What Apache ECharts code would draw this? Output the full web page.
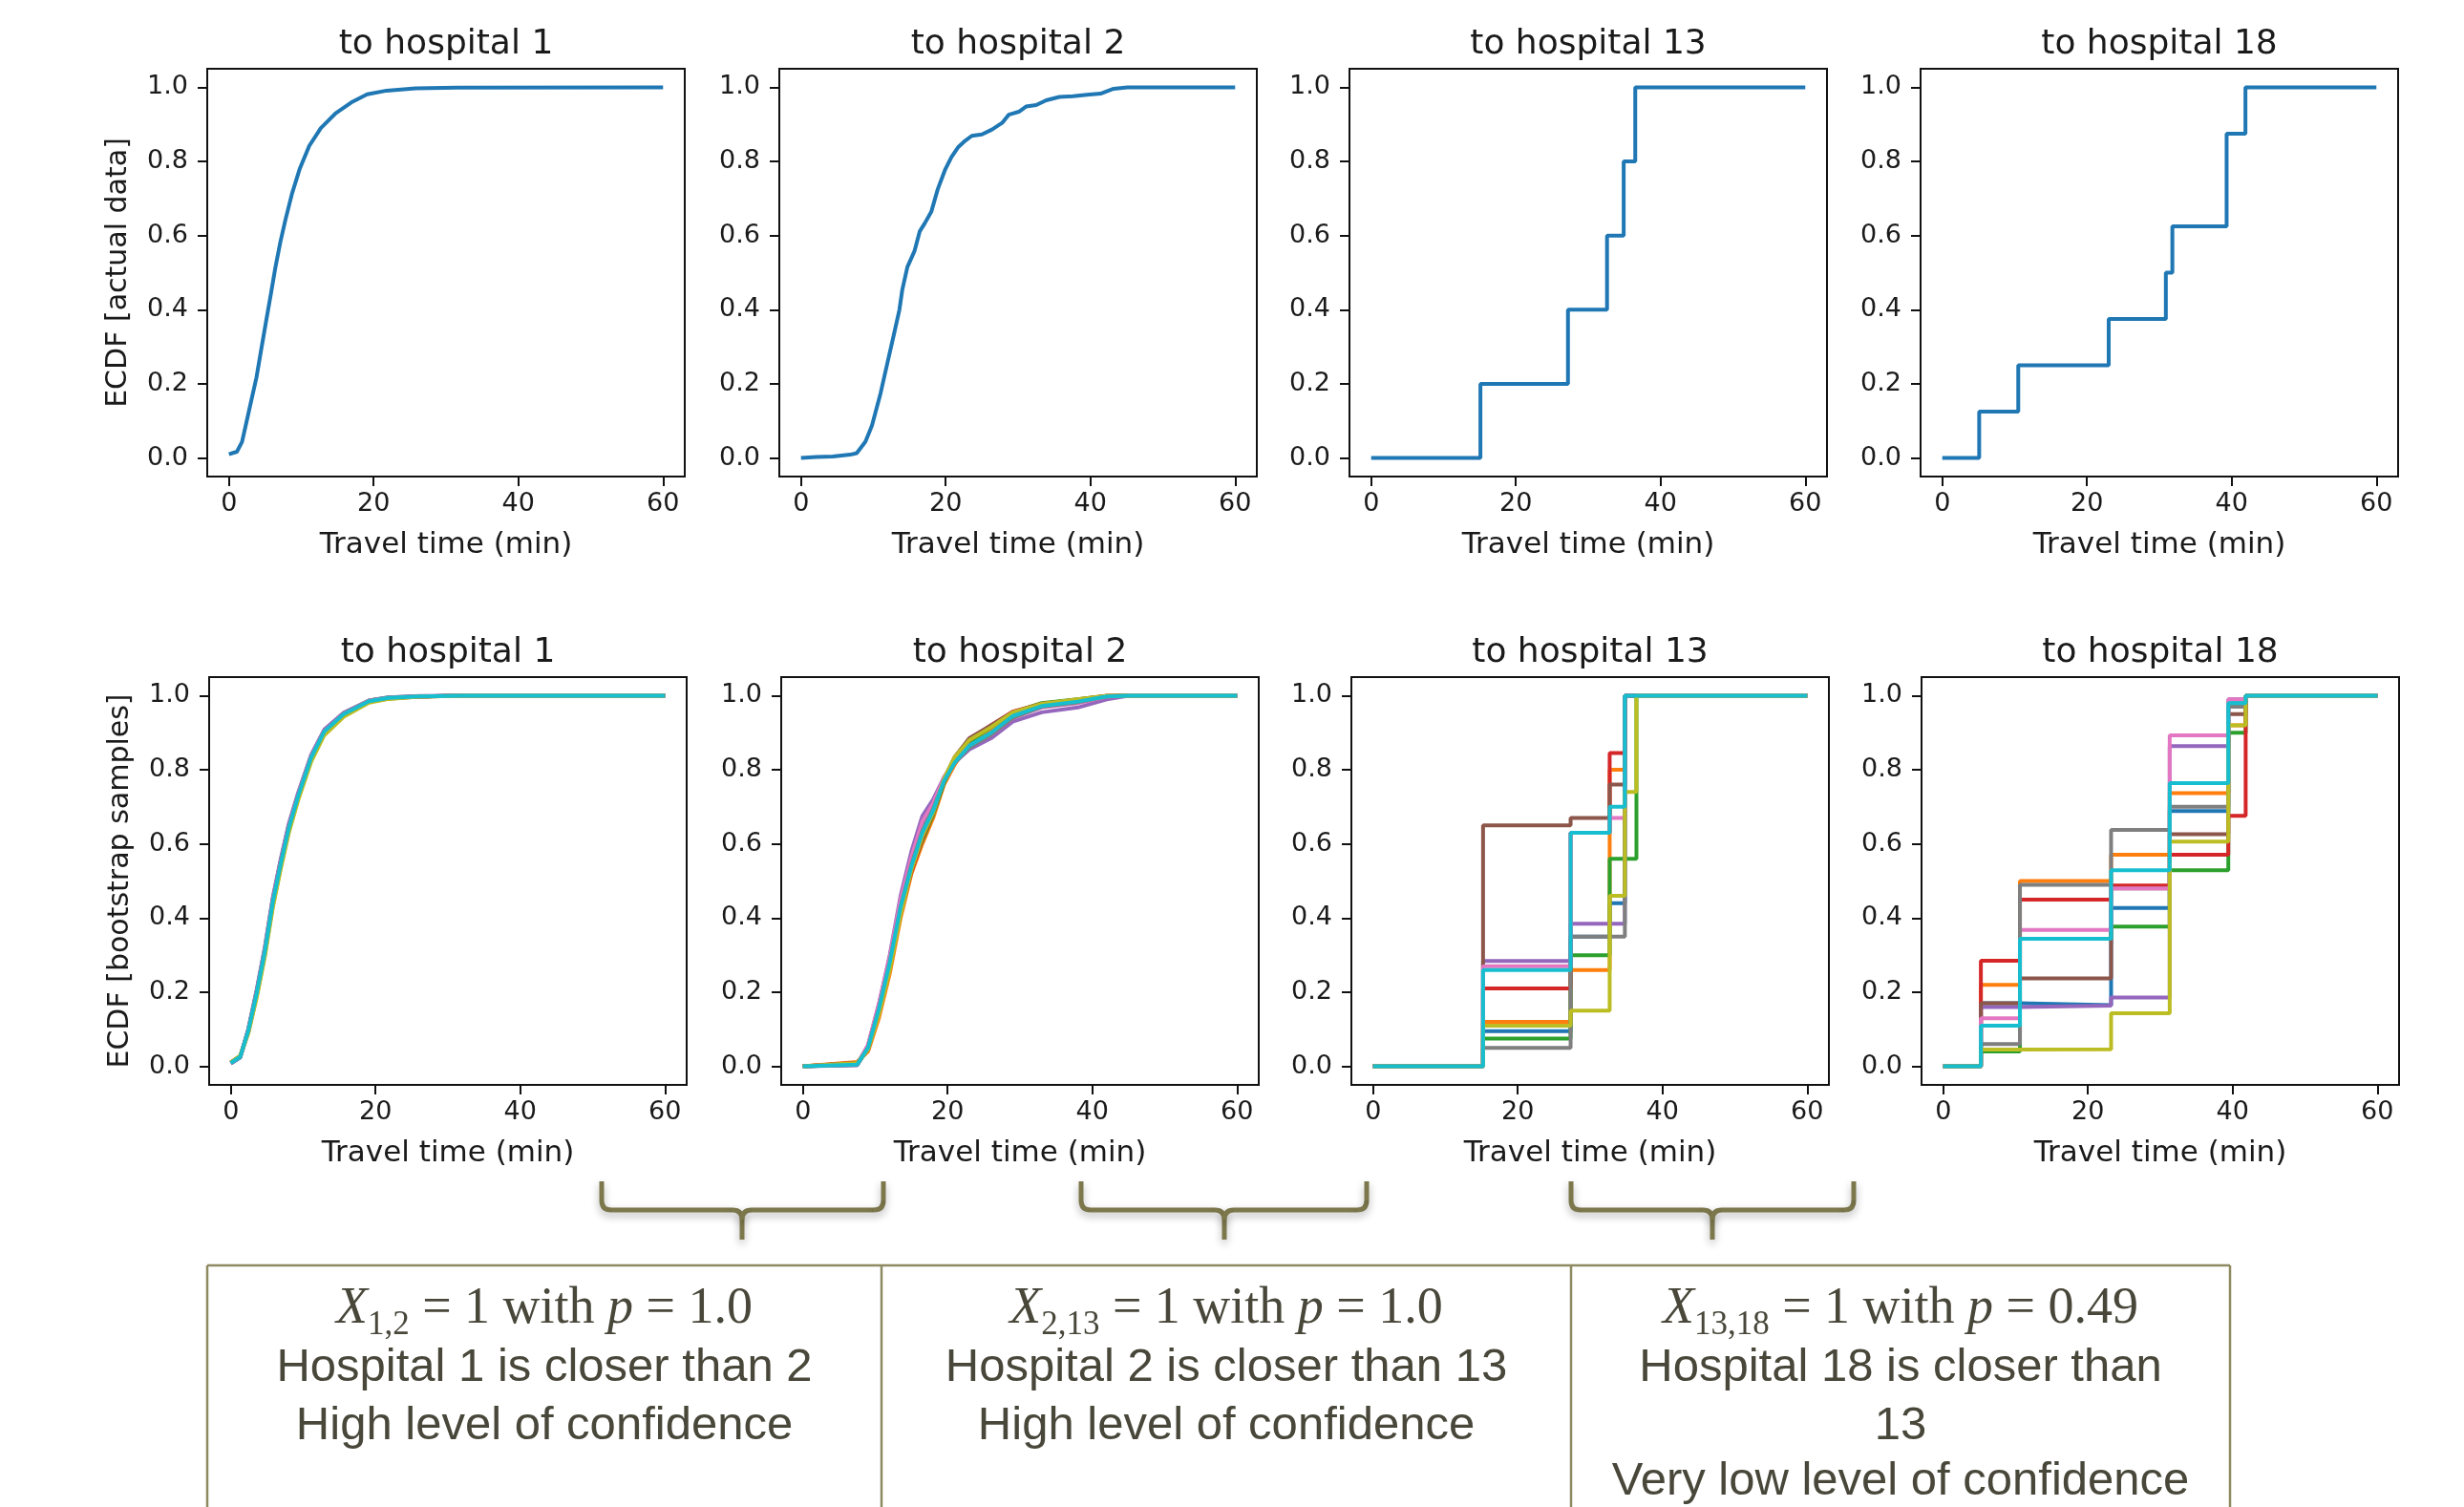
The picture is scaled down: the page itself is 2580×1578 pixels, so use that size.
<!DOCTYPE html>
<html>
<head>
<meta charset="utf-8">
<script src="https://cdn.jsdelivr.net/npm/echarts@6/dist/echarts.min.js"></script>
<style>
html, body { margin: 0; padding: 0; background: #fff; }
#main { width: 2580px; height: 1578px; }
</style>
</head>
<body>
<div id="main"></div>
<script>
// ticks and labels
var xTicks = [0, 20, 40, 60];
var yTicks = [0, 0.2, 0.4, 0.6, 0.8, 1.0];
var panelTitles = ['to hospital 1', 'to hospital 2', 'to hospital 13', 'to hospital 18'];
var rowNames = ['ECDF [actual data]', 'ECDF [bootstrap samples]'];
var xName = 'Travel time (min)';
var tab10 = ['#1f77b4', '#ff7f0e', '#2ca02c', '#d62728', '#9467bd', '#8c564b', '#e377c2', '#7f7f7f', '#bcbd22', '#17becf'];

// top row: ECDF of the actual data
var hosp1X = [0, 1.1, 1.8, 2.4, 3.1, 3.8, 4.4, 5.1, 5.8, 6.4, 7.1, 7.8, 8.7, 9.8, 11.1, 12.7, 14.7, 16.9, 19.1, 21.8, 25.8, 31.6, 60];
var hosp1Y = [0.01, 0.017, 0.043, 0.095, 0.156, 0.217, 0.286, 0.365, 0.443, 0.512, 0.582, 0.642, 0.712, 0.781, 0.842, 0.89, 0.929, 0.959, 0.981, 0.991, 0.997, 0.999, 1];
var hosp2X = [0, 2.1, 4.4, 6.8, 7.7, 8.9, 9.8, 11.0, 11.9, 12.8, 13.6, 14.0, 14.7, 15.7, 16.4, 17.1, 18.0, 18.9, 19.9, 20.8, 21.7, 22.7, 23.6, 25.0, 26.4, 27.8, 28.7, 30.1, 31.1, 32.5, 33.9, 35.7, 37.6, 39.5, 41.4, 43.2, 45.1, 60];
var hosp2Y = [0, 0.003, 0.004, 0.009, 0.013, 0.044, 0.087, 0.175, 0.253, 0.33, 0.40, 0.454, 0.515, 0.559, 0.611, 0.633, 0.664, 0.725, 0.777, 0.812, 0.838, 0.856, 0.869, 0.873, 0.886, 0.904, 0.926, 0.934, 0.948, 0.952, 0.965, 0.974, 0.976, 0.980, 0.983, 0.996, 1, 1];
var hosp13X = [0, 15.1, 27.2, 32.6, 34.9, 36.5, 60];
var hosp13Y = [0, 0.2, 0.4, 0.6, 0.8, 1.0, 1.0];
var hosp18X = [0, 5.1, 10.5, 23.0, 30.9, 31.8, 39.3, 41.9, 60];
var hosp18Y = [0, 0.125, 0.25, 0.375, 0.5, 0.625, 0.875, 1.0, 1.0];

// bottom row: 10 bootstrap samples per hospital (tab10 order)
var boot1X = [0, 1.3, 2.4, 3.6, 4.7, 5.8, 6.9, 8.0, 9.3, 11.1, 12.9, 15.6, 19.1, 21.8, 26.0, 32.0, 60];
var boot1Y = [
  [0.008, 0.024, 0.097, 0.203, 0.313, 0.446, 0.550, 0.645, 0.731, 0.835, 0.904, 0.951, 0.986, 0.994, 0.998, 1, 1],
  [0.010, 0.028, 0.090, 0.192, 0.301, 0.433, 0.538, 0.634, 0.722, 0.826, 0.897, 0.946, 0.983, 0.992, 0.997, 1, 1],
  [0.009, 0.026, 0.098, 0.206, 0.318, 0.452, 0.556, 0.650, 0.735, 0.838, 0.906, 0.953, 0.987, 0.995, 0.998, 1, 1],
  [0.011, 0.027, 0.094, 0.199, 0.309, 0.441, 0.546, 0.641, 0.728, 0.831, 0.901, 0.949, 0.985, 0.993, 0.998, 1, 1],
  [0.008, 0.025, 0.100, 0.210, 0.322, 0.456, 0.560, 0.654, 0.738, 0.840, 0.908, 0.954, 0.987, 0.995, 0.999, 1, 1],
  [0.010, 0.027, 0.093, 0.197, 0.306, 0.439, 0.543, 0.639, 0.726, 0.829, 0.900, 0.948, 0.984, 0.993, 0.997, 1, 1],
  [0.009, 0.026, 0.096, 0.202, 0.314, 0.447, 0.551, 0.646, 0.732, 0.835, 0.904, 0.951, 0.986, 0.994, 0.998, 1, 1],
  [0.010, 0.026, 0.094, 0.200, 0.310, 0.442, 0.547, 0.642, 0.729, 0.832, 0.902, 0.950, 0.985, 0.994, 0.998, 1, 1],
  [0.011, 0.029, 0.088, 0.188, 0.296, 0.428, 0.533, 0.629, 0.718, 0.822, 0.893, 0.943, 0.981, 0.991, 0.997, 1, 1],
  [0.009, 0.026, 0.095, 0.200, 0.310, 0.443, 0.547, 0.642, 0.729, 0.833, 0.903, 0.950, 0.985, 0.994, 0.998, 1, 1]
];
var boot2X = [0, 7.5, 9, 10.5, 12, 13.5, 15, 16.5, 18, 19.5, 21, 23, 26, 29, 33, 38, 42, 45, 60];
var boot2Y = [
  [0, 0.006, 0.055, 0.165, 0.29, 0.44, 0.55, 0.64, 0.70, 0.775, 0.825, 0.868, 0.905, 0.948, 0.975, 0.986, 0.998, 1, 1],
  [0, 0.012, 0.04, 0.13, 0.25, 0.40, 0.52, 0.60, 0.67, 0.76, 0.815, 0.87, 0.91, 0.95, 0.978, 0.99, 1, 1, 1],
  [0, 0.004, 0.048, 0.15, 0.27, 0.42, 0.53, 0.61, 0.68, 0.765, 0.83, 0.875, 0.915, 0.955, 0.98, 0.99, 0.999, 1, 1],
  [0, 0.01, 0.045, 0.145, 0.265, 0.415, 0.525, 0.615, 0.685, 0.77, 0.83, 0.88, 0.92, 0.957, 0.978, 0.988, 0.999, 1, 1],
  [0, 0.003, 0.055, 0.165, 0.30, 0.46, 0.58, 0.675, 0.72, 0.78, 0.82, 0.855, 0.885, 0.93, 0.955, 0.968, 0.99, 1, 1],
  [0, 0.008, 0.05, 0.15, 0.275, 0.425, 0.535, 0.625, 0.69, 0.775, 0.835, 0.885, 0.92, 0.955, 0.977, 0.988, 0.998, 1, 1],
  [0, 0.006, 0.058, 0.17, 0.295, 0.45, 0.565, 0.66, 0.71, 0.78, 0.825, 0.865, 0.895, 0.94, 0.968, 0.98, 0.997, 1, 1],
  [0, 0.005, 0.05, 0.155, 0.28, 0.43, 0.545, 0.635, 0.695, 0.77, 0.82, 0.86, 0.895, 0.94, 0.97, 0.982, 0.998, 1, 1],
  [0, 0.009, 0.045, 0.14, 0.26, 0.41, 0.53, 0.62, 0.685, 0.775, 0.835, 0.88, 0.915, 0.955, 0.978, 0.99, 0.999, 1, 1],
  [0, 0.005, 0.05, 0.155, 0.28, 0.43, 0.54, 0.63, 0.69, 0.77, 0.82, 0.865, 0.90, 0.945, 0.972, 0.984, 0.998, 1, 1]
];
var boot13X = [0, 15.2, 27.3, 32.7, 34.8, 36.4, 60];
var boot13Y = [
  [0, 0.095, 0.35, 0.44, 1, 1, 1],
  [0, 0.12, 0.26, 0.80, 1, 1, 1],
  [0, 0.075, 0.30, 0.56, 0.56, 1, 1],
  [0, 0.21, 0.63, 0.845, 1, 1, 1],
  [0, 0.284, 0.385, 0.385, 1, 1, 1],
  [0, 0.65, 0.67, 0.76, 1, 1, 1],
  [0, 0.27, 0.63, 0.67, 1, 1, 1],
  [0, 0.05, 0.35, 0.35, 1, 1, 1],
  [0, 0.11, 0.15, 0.46, 0.74, 1, 1],
  [0, 0.26, 0.63, 0.70, 1, 1, 1]
];
var boot18X = [0, 5.2, 10.6, 23.2, 31.3, 39.4, 41.8, 60];
var boot18Y = [
  [0, 0.17, 0.165, 0.427, 0.689, 0.98, 1, 1],
  [0, 0.22, 0.50, 0.571, 0.737, 0.92, 1, 1],
  [0, 0.04, 0.344, 0.377, 0.529, 0.90, 1, 1],
  [0, 0.285, 0.45, 0.488, 0.571, 0.676, 1, 1],
  [0, 0.16, 0.164, 0.186, 0.864, 0.99, 1, 1],
  [0, 0.17, 0.237, 0.48, 0.626, 0.95, 1, 1],
  [0, 0.13, 0.368, 0.48, 0.893, 0.99, 1, 1],
  [0, 0.06, 0.49, 0.638, 0.70, 0.97, 1, 1],
  [0, 0.045, 0.046, 0.143, 0.606, 0.92, 1, 1],
  [0, 0.11, 0.344, 0.529, 0.764, 0.98, 1, 1]
];

// notes below the charts
var noteSubs = ['1,2', '2,13', '13,18'];
var noteP = ['1.0', '1.0', '0.49'];
var noteLines = [
  ['Hospital 1 is closer than 2', 'High level of confidence'],
  ['Hospital 2 is closer than 13', 'High level of confidence'],
  ['Hospital 18 is closer than', '13', 'Very low level of confidence']
];

// layout
var panelLeft = [[217, 816, 1413, 2011], [219, 818, 1415, 2012]];
var panelTop = [72, 709];
var panelW = 500, panelH = 427;
var font = 'DejaVu Sans';
var noteColor = '#48473a';
var olive = '#7d784c';

function pts(xs, ys) {
  return xs.map(function (x, i) { return [x, ys[i]]; });
}

var grids = [], xAxes = [], yAxes = [], series = [], graphics = [];

function addPanel(row, col) {
  var idx = grids.length;
  grids.push({
    left: panelLeft[row][col], top: panelTop[row], width: panelW, height: panelH,
    show: true, borderColor: '#111', borderWidth: 2, backgroundColor: '#fff'
  });
  xAxes.push({
    gridIndex: idx, type: 'value', min: -3, max: 63,
    axisLine: { show: true, onZero: false, lineStyle: { color: '#111', width: 2 } },
    axisTick: { show: true, inside: false, length: 10, lineStyle: { color: '#111', width: 2 }, customValues: xTicks },
    axisLabel: { customValues: xTicks, fontFamily: font, fontSize: 27, color: '#1a1a1a', margin: 15 },
    splitLine: { show: false },
    name: xName, nameLocation: 'middle', nameGap: 56,
    nameTextStyle: { fontFamily: font, fontSize: 31, color: '#1a1a1a' }
  });
  yAxes.push({
    gridIndex: idx, type: 'value', min: -0.05, max: 1.05,
    axisLine: { show: true, onZero: false, lineStyle: { color: '#111', width: 2 } },
    axisTick: { show: true, inside: false, length: 10, lineStyle: { color: '#111', width: 2 }, customValues: yTicks },
    axisLabel: {
      customValues: yTicks, fontFamily: font, fontSize: 27, color: '#1a1a1a', margin: 20,
      formatter: function (v) { return v.toFixed(1); }
    },
    splitLine: { show: false },
    name: col === 0 ? rowNames[row] : '', nameLocation: 'middle', nameGap: 78,
    nameTextStyle: { fontFamily: font, fontSize: 30, color: '#1a1a1a' }
  });
  graphics.push({
    type: 'text', x: panelLeft[row][col] + panelW / 2, y: row === 0 ? 47 : 684,
    style: {
      text: panelTitles[col], fontFamily: font, fontSize: 36, fill: '#1a1a1a',
      align: 'center', verticalAlign: 'middle', textAlign: 'center', textVerticalAlign: 'middle'
    }
  });
  return idx;
}

function addLine(idx, xs, ys, color, step) {
  series.push({
    type: 'line', xAxisIndex: idx, yAxisIndex: idx,
    data: pts(xs, ys), step: step ? 'end' : false,
    showSymbol: false, symbol: 'none', silent: true,
    lineStyle: { color: color, width: 4 }
  });
}

// top row
addLine(addPanel(0, 0), hosp1X, hosp1Y, tab10[0], false);
addLine(addPanel(0, 1), hosp2X, hosp2Y, tab10[0], false);
addLine(addPanel(0, 2), hosp13X, hosp13Y, tab10[0], true);
addLine(addPanel(0, 3), hosp18X, hosp18Y, tab10[0], true);

// bottom row
var bootSets = [[boot1X, boot1Y, false], [boot2X, boot2Y, false], [boot13X, boot13Y, true], [boot18X, boot18Y, true]];
bootSets.forEach(function (set, col) {
  var idx = addPanel(1, col);
  set[1].forEach(function (ys, k) {
    addLine(idx, set[0], ys, tab10[k], set[2]);
  });
});

// braces between neighbouring panels, built from lines and quadratic curves
var braces = [[630, 925, 777], [1132, 1431, 1282], [1645, 1941, 1793]];
var bTop = 1237, bMid = 1267, bTip = 1298, r = 10;
var braceStyle = { fill: 'none', stroke: olive, lineWidth: 5, shadowBlur: 8, shadowColor: 'rgba(0,0,0,0.3)', shadowOffsetY: 4 };
function seg(x1, y1, x2, y2) {
  graphics.push({ type: 'line', shape: { x1: x1, y1: y1, x2: x2, y2: y2 }, style: braceStyle });
}
function curve(x1, y1, cx, cy, x2, y2) {
  graphics.push({ type: 'bezierCurve', shape: { x1: x1, y1: y1, cpx1: cx, cpy1: cy, x2: x2, y2: y2 }, style: braceStyle });
}
braces.forEach(function (b) {
  var L = b[0], R = b[1], C = b[2];
  seg(L, bTop, L, bMid - r);
  curve(L, bMid - r, L, bMid, L + r, bMid);
  seg(L + r, bMid, C - r, bMid);
  curve(C - r, bMid, C, bMid, C, bMid + r);
  seg(C, bMid + r, C, bTip);
  curve(C, bMid + r, C, bMid, C + r, bMid);
  seg(C + r, bMid, R - r, bMid);
  curve(R - r, bMid, R, bMid, R, bMid - r);
  seg(R, bMid - r, R, bTop);
});

// table of notes
var boxTop = 1325, boxEdges = [217, 923, 1645, 2335];
var boxStyle = { stroke: '#8e8a62', lineWidth: 2.5 };
graphics.push({ type: 'line', shape: { x1: boxEdges[0], y1: boxTop, x2: boxEdges[3], y2: boxTop }, style: boxStyle });
boxEdges.forEach(function (x) {
  graphics.push({ type: 'line', shape: { x1: x, y1: boxTop, x2: x, y2: 1600 }, style: boxStyle });
});

var lineY = [1371, 1432, 1493, 1551];
noteSubs.forEach(function (sub, i) {
  var cx = (boxEdges[i] + boxEdges[i + 1]) / 2;
  graphics.push({
    type: 'text', x: cx, y: lineY[0],
    style: {
      text: '{i|X}{s|' + sub + '}{n| = 1 with }{i|p}{n| = ' + noteP[i] + '}',
      align: 'center', verticalAlign: 'middle', textAlign: 'center', textVerticalAlign: 'middle',
      rich: {
        i: { fontFamily: 'Liberation Serif', fontStyle: 'italic', fontSize: 54, fill: noteColor },
        s: { fontFamily: 'Liberation Serif', fontSize: 35, fill: noteColor, padding: [34, 0, 0, 0] },
        n: { fontFamily: 'Liberation Serif', fontSize: 54, fill: noteColor }
      }
    }
  });
  noteLines[i].forEach(function (t, j) {
    graphics.push({
      type: 'text', x: cx, y: lineY[j + 1],
      style: {
        text: t, fontFamily: 'Liberation Sans', fontSize: 49, fill: noteColor,
        align: 'center', verticalAlign: 'middle', textAlign: 'center', textVerticalAlign: 'middle'
      }
    });
  });
});

var chart = echarts.init(document.getElementById('main'));
chart.setOption({
  animation: false,
  backgroundColor: '#fff',
  grid: grids,
  xAxis: xAxes,
  yAxis: yAxes,
  series: series,
  graphic: graphics
});
</script>
</body>
</html>
